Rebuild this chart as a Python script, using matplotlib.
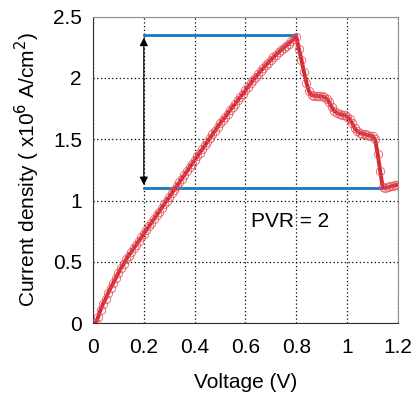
import numpy as np
import matplotlib
matplotlib.use('Agg')
import matplotlib.pyplot as plt

plt.rcParams['font.family'] = ['Liberation Sans', 'DejaVu Sans']

voltage = np.round(np.arange(1, 121) * 0.01, 2)
current = [
    0.00, 0.05, 0.11, 0.16, 0.20, 0.25, 0.29, 0.33, 0.37, 0.41,
    0.45, 0.48, 0.52, 0.55, 0.58, 0.61, 0.64, 0.67, 0.70, 0.73,
    0.76, 0.79, 0.82, 0.85, 0.88, 0.91, 0.94, 0.97, 1.00, 1.03,
    1.06, 1.09, 1.12, 1.15, 1.18, 1.21, 1.24, 1.27, 1.30, 1.33,
    1.36, 1.39, 1.42, 1.45, 1.48, 1.51, 1.54, 1.57, 1.60, 1.63,
    1.655, 1.68, 1.71, 1.74, 1.765, 1.79, 1.82, 1.845, 1.87, 1.90,
    1.928, 1.955, 1.981, 2.007, 2.032, 2.056, 2.080, 2.103, 2.125, 2.147,
    2.168, 2.188, 2.208, 2.227, 2.245, 2.263, 2.280, 2.298, 2.316, 2.335,
    2.24, 2.15, 2.05, 1.96, 1.89, 1.86, 1.855, 1.855, 1.85, 1.85,
    1.845, 1.83, 1.80, 1.76, 1.73, 1.715, 1.705, 1.70, 1.695, 1.685,
    1.665, 1.63, 1.59, 1.565, 1.55, 1.545, 1.54, 1.535, 1.53, 1.525,
    1.50, 1.38, 1.24, 1.11, 1.105, 1.11, 1.115, 1.12, 1.125, 1.13,
]

peak_j = 2.35
valley_j = 1.105
arrow_v = 0.2
valley_end_v = 1.142
pvr_text = 'PVR = 2'

xticks = [0, 0.2, 0.4, 0.6, 0.8, 1.0, 1.2]
xlabels = ['0', '0.2', '0.4', '0.6', '0.8', '1', '1.2']
yticks = [0, 0.5, 1.0, 1.5, 2.0, 2.5]
ylabels = ['0', '0.5', '1', '1.5', '2', '2.5']

fig = plt.figure(figsize=(4.11, 3.95), dpi=100)
ax = fig.add_axes([0.2263, 0.1818, 0.742, 0.776])

ax.plot(voltage, current, color='#d42a32', lw=2.8, zorder=3)
ax.plot(voltage, current, ls='none', marker='o', ms=6, mfc='none',
        mec='#e0505a', mew=0.7, alpha=0.8, zorder=4)

ax.plot([arrow_v, 0.8], [peak_j, peak_j], color='#1a78c2', lw=2, zorder=2)
ax.plot([arrow_v, valley_end_v], [valley_j, valley_j], color='#1a78c2', lw=2, zorder=2)

ax.annotate('', xy=(arrow_v, peak_j - 0.02), xytext=(arrow_v, valley_j + 0.02),
            arrowprops=dict(arrowstyle='<|-|>', color='black', lw=0.9,
                            mutation_scale=12, shrinkA=0, shrinkB=0), zorder=5)

ax.text(0.775, 0.83, pvr_text, fontsize=15, ha='center', va='center')

ax.set_xlim(0, 1.2)
ax.set_ylim(0, 2.5)
ax.set_xticks(xticks)
ax.set_xticklabels(xlabels)
ax.set_yticks(yticks)
ax.set_yticklabels(ylabels)
ax.tick_params(axis='both', length=0, labelsize=15)
ax.tick_params(axis='x', pad=11)
ax.tick_params(axis='y', pad=8)
ax.grid(True, color='black', ls=(0, (1, 2)), lw=0.9)

for side in ['top', 'right']:
    ax.spines[side].set_color('#909090')
for side in ['left', 'bottom']:
    ax.spines[side].set_color('#303030')

ax.set_xlabel('Voltage (V)', fontsize=15, labelpad=11)
ax.set_ylabel('Current density ( x10$^6$ A/cm$^2$)', fontsize=15, labelpad=8)

plt.savefig('out.png', dpi=100)
